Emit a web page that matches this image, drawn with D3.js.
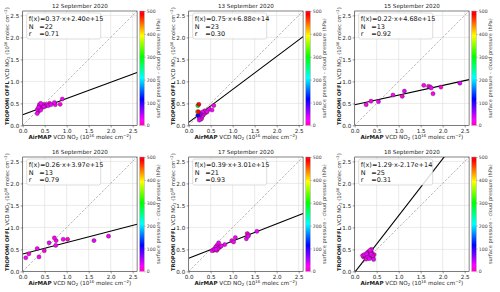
<!DOCTYPE html>
<html><head><meta charset="utf-8">
<script src="https://cdn.jsdelivr.net/npm/d3@7"></script>
<style>
html,body{margin:0;padding:0;background:#fff;}
svg{display:block;font-family:"DejaVu Sans",sans-serif;}
</style></head>
<body><svg id="c" width="500" height="292"></svg>
<script>
// ---- data ----
const dates = ["12 September 2020","13 September 2020","15 September 2020","16 September 2020","17 September 2020","18 September 2020"];
const fitLabels = ["f(x)=0.37·x+2.40e+15","f(x)=0.75·x+6.88e+14","f(x)=0.22·x+4.68e+15","f(x)=0.26·x+3.97e+15","f(x)=0.39·x+3.01e+15","f(x)=1.29·x-2.17e+14"];
const slopes = [0.37, 0.75, 0.22, 0.26, 0.39, 1.29];
const intercepts = [0.240, 0.0688, 0.468, 0.397, 0.301, -0.0217]; // in 1e16 units
const counts = [22, 23, 13, 13, 21, 25];
const rValues = ["0.71","0.30","0.92","0.79","0.93","0.31"];
const axisTicks = [0.0, 0.5, 1.0, 1.5, 2.0, 2.5];
const cbarTicks = [0, 100, 200, 300, 400, 500];

const x12 = [0.90,0.85,0.72,0.74,0.61,0.64,0.55,0.49,0.41,0.45,0.38,0.36,0.33,0.36,0.33,0.39,0.44,0.48,0.41,0.52,0.58,0.38];
const y12 = [0.60,0.48,0.52,0.47,0.50,0.47,0.47,0.48,0.50,0.45,0.44,0.41,0.36,0.32,0.27,0.39,0.41,0.42,0.35,0.44,0.45,0.47];
const c12 = [20,15,25,20,10,30,20,15,25,20,10,30,20,15,25,20,10,30,20,15,25,20];

const x13 = [0.21,0.23,0.20,0.22,0.21,0.26,0.29,0.24,0.30,0.34,0.38,0.42,0.47,0.57,0.53,0.27,0.25,0.31,0.36,0.23,0.28,0.33,0.40];
const y13 = [0.45,0.48,0.31,0.31,0.23,0.20,0.16,0.12,0.21,0.27,0.29,0.31,0.37,0.45,0.35,0.26,0.24,0.30,0.33,0.19,0.14,0.23,0.30];
const c13 = [300,490,400,490,110,20,15,30,25,20,10,30,20,15,25,40,60,20,15,30,25,20,10];

const x15 = [0.26,0.37,0.54,0.87,1.08,1.13,1.57,1.68,1.74,1.78,1.96,2.39,1.72];
const y15 = [0.47,0.55,0.54,0.69,0.66,0.78,0.91,0.89,0.85,0.72,0.87,0.96,0.87];
const c15 = [20,15,25,20,10,30,20,15,25,20,10,30,20];

const x16 = [0.07,0.14,0.33,0.37,0.49,0.60,0.72,0.76,0.75,0.92,1.02,1.62,1.95];
const y16 = [0.31,0.40,0.52,0.33,0.47,0.65,0.76,0.70,0.59,0.73,0.73,0.70,0.80];
const c16 = [20,15,25,20,10,30,20,15,25,20,10,30,20];

const x17 = [0.53,0.57,0.58,0.61,0.64,0.68,0.67,0.70,0.74,0.82,0.64,0.62,0.72,0.98,1.02,1.06,1.33,1.35,1.31,1.36,1.55];
const y17 = [0.47,0.48,0.50,0.55,0.59,0.65,0.52,0.55,0.58,0.61,0.48,0.50,0.57,0.70,0.67,0.77,0.86,0.80,0.74,0.83,0.91];
const c17 = [20,15,25,20,10,30,20,15,25,20,10,30,20,15,25,20,10,30,20,15,25];

const x18 = [0.18,0.20,0.22,0.24,0.25,0.27,0.28,0.29,0.30,0.31,0.32,0.33,0.33,0.34,0.35,0.36,0.36,0.37,0.38,0.39,0.40,0.42,0.44,0.43,0.26];
const y18 = [0.36,0.33,0.38,0.35,0.31,0.40,0.36,0.43,0.33,0.38,0.45,0.29,0.41,0.36,0.48,0.44,0.33,0.39,0.50,0.42,0.36,0.31,0.38,0.27,0.28];
const c18 = [20,15,25,20,10,30,20,15,25,20,10,30,20,15,25,20,10,30,20,15,25,20,10,30,20];

const xs = [x12,x13,x15,x16,x17,x18];
const ys = [y12,y13,y15,y16,y17,y18];
const cs = [c12,c13,c15,c16,c17,c18];

// ---- layout ----
const svg = d3.select("#c");
const size = 114.4;
const colLeft = [22.7, 188.7, 354.7];
const rowTop = [11, 157];

// gist_rainbow_r colormap
const stopsT = [0, 0.046, 0.23, 0.414, 0.6, 0.785, 0.97, 1];
const stopsC = ["#ff00bf","#ff00ff","#0000ff","#00ffff","#00ff00","#ffff00","#ff0000","#ff0029"];
const cmapT = d3.scaleLinear().domain(stopsT).range(stopsC).interpolate(d3.interpolateRgb);
const cnorm = d3.scaleLinear().domain([0,500]).range([0,1]).clamp(true);

const defs = svg.append("defs");
const grad = defs.append("linearGradient").attr("id","cb").attr("x1",0).attr("x2",0).attr("y1",1).attr("y2",0);
stopsT.forEach((t,i)=>grad.append("stop").attr("offset",t).attr("stop-color",stopsC[i]));

const fs = 5.6;

function addLabel(sel, bold, f) {
  sel.append("tspan").attr("font-weight","bold").text(bold);
  sel.append("tspan").text(" VCD NO");
  sel.append("tspan").attr("font-size",f*0.7).attr("dy",1.2).text("2");
  sel.append("tspan").attr("dy",-1.2).text(" (10");
  sel.append("tspan").attr("font-size",f*0.7).attr("dy",-2).text("16");
  sel.append("tspan").attr("dy",2).text(" molec cm");
  sel.append("tspan").attr("font-size",f*0.7).attr("dy",-2).text("−2");
  sel.append("tspan").attr("dy",2).text(")");
}

dates.forEach((date, i) => {
  const ox = colLeft[i%3], oy = rowTop[Math.floor(i/3)];
  const g = svg.append("g").attr("transform",`translate(${ox},${oy})`);
  const x = d3.scaleLinear().domain([0,2.6]).range([0,size]);
  const y = d3.scaleLinear().domain([0,2.6]).range([size,0]);

  defs.append("clipPath").attr("id","clip"+i).append("rect").attr("width",size).attr("height",size);

  // grid
  g.append("g").selectAll("line").data(axisTicks).join("line")
    .attr("x1",d=>x(d)).attr("x2",d=>x(d)).attr("y1",0).attr("y2",size)
    .attr("stroke","#dcdcdc").attr("stroke-width",0.6);
  g.append("g").selectAll("line").data(axisTicks).join("line")
    .attr("y1",d=>y(d)).attr("y2",d=>y(d)).attr("x1",0).attr("x2",size)
    .attr("stroke","#dcdcdc").attr("stroke-width",0.6);

  const pg = g.append("g").attr("clip-path",`url(#clip${i})`);
  // 1:1 line
  pg.append("line").attr("x1",x(0)).attr("y1",y(0)).attr("x2",x(2.6)).attr("y2",y(2.6))
    .attr("stroke","#999").attr("stroke-width",0.7).attr("stroke-dasharray","2.5,1.5");
  // regression
  pg.append("line").attr("x1",x(0)).attr("y1",y(intercepts[i])).attr("x2",x(2.6)).attr("y2",y(intercepts[i]+slopes[i]*2.6))
    .attr("stroke","#000").attr("stroke-width",1.1);

  // points
  const pts = xs[i].map((v,j)=>({x:v,y:ys[i][j],c:cs[i][j]}));
  pts.sort((a,b)=>a.c-b.c);
  g.append("g").selectAll("circle").data(pts).join("circle")
    .attr("cx",d=>x(d.x)).attr("cy",d=>y(d.y)).attr("r",2.1)
    .attr("fill",d=>cmapT(cnorm(d.c))).attr("stroke","#222").attr("stroke-width",0.35);

  // axes
  const xa = g.append("g").attr("transform",`translate(0,${size})`)
    .call(d3.axisBottom(x).tickValues(axisTicks).tickFormat(d3.format(".1f")).tickSize(2).tickPadding(1.5));
  const ya = g.append("g")
    .call(d3.axisLeft(y).tickValues(axisTicks).tickFormat(d3.format(".1f")).tickSize(2).tickPadding(1.5));
  [xa,ya].forEach(a=>{
    a.select(".domain").remove();
    a.selectAll("text").attr("font-size",fs).attr("fill","#222").attr("font-family","DejaVu Sans");
    a.selectAll("line").attr("stroke","#333").attr("stroke-width",0.5);
  });
  g.append("rect").attr("width",size).attr("height",size).attr("fill","none").attr("stroke","#333").attr("stroke-width",0.6);

  // title
  g.append("text").attr("x",size/2).attr("y",-3).attr("text-anchor","middle").attr("font-size",fs).attr("fill","#222").text(date);

  // stats box
  const bx = 4, by = 2;
  g.append("rect").attr("x",bx).attr("y",by).attr("width",74).attr("height",26).attr("rx",2)
    .attr("fill","#fff").attr("fill-opacity",0.85).attr("stroke","#c8c8c8").attr("stroke-width",0.6);
  const tb = g.append("g").attr("font-size",6.5).attr("fill","#111");
  tb.append("text").attr("x",bx+2).attr("y",by+8).text(fitLabels[i]);
  tb.append("text").attr("x",bx+2).attr("y",by+15.5).text("N");
  tb.append("text").attr("x",bx+12.5).attr("y",by+15.5).text("=" + counts[i]);
  tb.append("text").attr("x",bx+2).attr("y",by+23).text("r");
  tb.append("text").attr("x",bx+12.5).attr("y",by+23).text("=" + rValues[i]);

  // x label
  const xl = g.append("text").attr("x",size/2).attr("y",size+13.5).attr("text-anchor","middle").attr("font-size",fs).attr("fill","#222");
  addLabel(xl, "AirMAP", fs);

  // y label
  const yfs = 5.2;
  const yl = g.append("text").attr("transform",`translate(-13.5,${size/2 - 2}) rotate(-90)`).attr("text-anchor","middle").attr("font-size",yfs).attr("fill","#222");
  addLabel(yl, "TROPOMI OFFL", yfs);

  // colorbar
  const cbx = size + 2.6, cbw = 4.6;
  const cy = d3.scaleLinear().domain([0,500]).range([size,0]);
  g.append("rect").attr("x",cbx).attr("y",0).attr("width",cbw).attr("height",size).attr("fill","url(#cb)")
    .attr("stroke","#999").attr("stroke-width",0.4);
  const ca = g.append("g").attr("transform",`translate(${cbx+cbw},0)`)
    .call(d3.axisRight(cy).tickValues(cbarTicks).tickSize(1.5).tickPadding(1));
  ca.select(".domain").remove();
  ca.selectAll("text").attr("font-size",4.6).attr("fill","#444").attr("font-family","DejaVu Sans");
  ca.selectAll("line").attr("stroke","#666").attr("stroke-width",0.4);
  g.append("text").attr("transform",`translate(${cbx+cbw+16},${size/2}) rotate(-90)`).attr("text-anchor","middle")
    .attr("font-size",5.1).attr("fill","#444").text("surface pressure - cloud pressure (hPa)");
});
</script></body></html>
